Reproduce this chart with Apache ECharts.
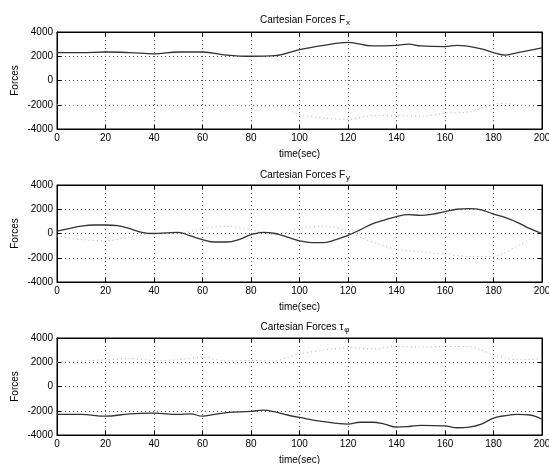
<!DOCTYPE html>
<html>
<head>
<meta charset="utf-8">
<script src="https://cdn.jsdelivr.net/npm/echarts@6/dist/echarts.min.js"></script>
<style>html,body{margin:0;padding:0;background:#fff;}#c{width:549px;height:464px;}</style>
</head>
<body>
<div id="c"></div>
<script>
// ---- data ----
const xTicks = [0, 20, 40, 60, 80, 100, 120, 140, 160, 180, 200];
const yTicks = [-4000, -2000, 0, 2000, 4000];

const fxTime = [0, 10, 20, 30, 40, 50, 60, 70, 80, 90, 100, 110, 120, 130, 140, 145, 150, 160, 165, 175, 180, 185, 190, 200];
const fxMain = [2300, 2300, 2350, 2300, 2200, 2350, 2350, 2100, 2000, 2050, 2550, 2900, 3150, 2850, 2900, 3000, 2850, 2800, 2900, 2600, 2300, 2100, 2300, 2700];
const fxFaintTime = [0, 10, 20, 30, 40, 50, 60, 70, 80, 90, 95, 100, 110, 120, 130, 140, 150, 160, 170, 175, 182, 190, 200];
const fxFaint = [-2000, -2050, -2000, -2050, -2000, -2050, -2000, -2050, -2100, -2100, -2400, -2800, -3100, -3200, -2900, -2900, -2950, -2700, -2600, -2300, -1900, -2000, -2200];

const fyTime = [0, 5, 10, 15, 20, 25, 30, 35, 40, 45, 50, 55, 60, 65, 70, 75, 80, 85, 90, 95, 100, 105, 110, 115, 120, 125, 130, 135, 140, 145, 150, 155, 160, 165, 170, 175, 180, 185, 190, 195, 200];
const fyMain = [200, 400, 600, 700, 700, 650, 400, 100, 0, 50, 100, -200, -500, -700, -700, -500, -100, 100, 0, -300, -600, -750, -750, -500, -150, 300, 800, 1100, 1400, 1550, 1500, 1600, 1800, 2000, 2050, 1950, 1600, 1300, 900, 400, 0];
const fyFaintTime = [0, 10, 20, 30, 40, 50, 60, 70, 80, 90, 100, 110, 120, 125, 130, 140, 150, 160, 170, 180, 190, 200];
const fyFaint = [-200, -500, -600, -300, 0, 0, 400, 600, 300, -100, 400, 600, 200, -300, -700, -1300, -1500, -1700, -1900, -1900, -1000, 0];

const tauTime = [0, 10, 20, 30, 40, 50, 55, 60, 65, 70, 80, 85, 90, 95, 100, 110, 120, 125, 130, 135, 140, 145, 150, 160, 165, 170, 175, 180, 185, 190, 195, 200];
const tauMain = [-2300, -2300, -2450, -2250, -2200, -2300, -2250, -2450, -2300, -2150, -2050, -1950, -2100, -2350, -2550, -2900, -3100, -2950, -2950, -3100, -3350, -3300, -3200, -3250, -3400, -3350, -3100, -2600, -2400, -2300, -2350, -2700];
const tauFaintTime = [0, 10, 20, 30, 40, 50, 60, 70, 80, 90, 95, 100, 110, 120, 130, 140, 150, 160, 170, 175, 180, 185, 190, 200];
const tauFaint = [2000, 2100, 2200, 2300, 2150, 2200, 2400, 2100, 2150, 2100, 2400, 2700, 3000, 3200, 3100, 3300, 3250, 3300, 3300, 3000, 2600, 2350, 2200, 2300];

const titles = [
  'Cartesian Forces F{sub|x}',
  'Cartesian Forces F{sub|y}',
  'Cartesian Forces \u03c4{sub|\u03c6}'
];

// ---- layout ----
const FONT = 'Liberation Sans, Arial, sans-serif';
const tops = [32, 185, 338];
const titleY = [8, 163, 315];
const plotH = 97;
const gridLeft = 57, gridRight = 7;

const grids = [], xAxes = [], yAxes = [], series = [], titleOpts = [];
const mainData = [[fxTime, fxMain], [fyTime, fyMain], [tauTime, tauMain]];
const faintData = [[fxFaintTime, fxFaint], [fyFaintTime, fyFaint], [tauFaintTime, tauFaint]];
const plain = v => String(v);

for (let i = 0; i < 3; i++) {
  grids.push({left: gridLeft, right: gridRight, top: tops[i], height: plotH, show: true,
    borderColor: '#000', borderWidth: 1, backgroundColor: 'transparent',
    containLabel: false, outerBoundsMode: 'none'});
  xAxes.push({
    type: 'value', gridIndex: i, min: xTicks[0], max: xTicks[xTicks.length - 1], interval: 20, position: 'bottom',
    axisLine: {show: true, onZero: false, lineStyle: {color: '#000', width: 1}},
    axisTick: {show: true, inside: true, length: 4, lineStyle: {color: '#000'}},
    axisLabel: {show: true, color: '#000', fontSize: 10, fontFamily: FONT, margin: 4, formatter: plain, hideOverlap: false},
    splitLine: {show: true, lineStyle: {color: '#555', type: [1, 3], width: 1}},
    name: 'time(sec)', nameLocation: 'middle', nameGap: 20, nameMoveOverlap: false,
    nameTextStyle: {color: '#000', fontSize: 10, fontFamily: FONT}
  });
  xAxes.push({
    type: 'value', gridIndex: i, min: 0, max: 200, interval: 20, position: 'top',
    axisLine: {show: true, onZero: false, lineStyle: {color: '#000', width: 1}},
    axisTick: {show: true, inside: true, length: 4, lineStyle: {color: '#000'}},
    axisLabel: {show: false}, splitLine: {show: false}
  });
  yAxes.push({
    type: 'value', gridIndex: i, min: yTicks[0], max: yTicks[yTicks.length - 1], interval: 2000, position: 'left',
    axisLine: {show: true, onZero: false, lineStyle: {color: '#000', width: 1}},
    axisTick: {show: true, inside: true, length: 4, lineStyle: {color: '#000'}},
    axisLabel: {show: true, color: '#000', fontSize: 10, fontFamily: FONT, margin: 4, formatter: plain, hideOverlap: false},
    splitLine: {show: true, lineStyle: {color: '#555', type: [1, 3], width: 1}},
    name: 'Forces', nameLocation: 'middle', nameGap: 37, nameRotate: 90, nameMoveOverlap: false,
    nameTextStyle: {color: '#000', fontSize: 10, fontFamily: FONT}
  });
  yAxes.push({
    type: 'value', gridIndex: i, min: -4000, max: 4000, interval: 2000, position: 'right',
    axisLine: {show: true, onZero: false, lineStyle: {color: '#000', width: 1}},
    axisTick: {show: true, inside: true, length: 4, lineStyle: {color: '#000'}},
    axisLabel: {show: false}, splitLine: {show: false}
  });

  const [ft, fv] = faintData[i];
  series.push({
    type: 'line', xAxisIndex: 2 * i, yAxisIndex: 2 * i, showSymbol: false, silent: true,
    data: ft.map((t, k) => [t, fv[k]]), smooth: 0.3,
    lineStyle: {color: '#b0b0b0', width: 1, type: [1, 3]}
  });
  const [mt, mv] = mainData[i];
  series.push({
    type: 'line', xAxisIndex: 2 * i, yAxisIndex: 2 * i, showSymbol: false, silent: true,
    data: mt.map((t, k) => [t, mv[k]]), smooth: 0.4,
    lineStyle: {color: '#333', width: 1.3}
  });

  titleOpts.push({
    text: titles[i], left: 300, top: titleY[i], textAlign: 'center',
    textStyle: {color: '#000', fontSize: 10, fontWeight: 'normal', fontFamily: FONT,
      rich: {sub: {fontSize: 8, color: '#000', fontFamily: FONT, padding: [6, 0, 0, 1]}}}
  });
}

const chart = echarts.init(document.getElementById('c'), null, {renderer: 'canvas'});
chart.setOption({
  animation: false,
  backgroundColor: '#fff',
  title: titleOpts,
  grid: grids,
  xAxis: xAxes,
  yAxis: yAxes,
  series: series
});
</script>
</body>
</html>
